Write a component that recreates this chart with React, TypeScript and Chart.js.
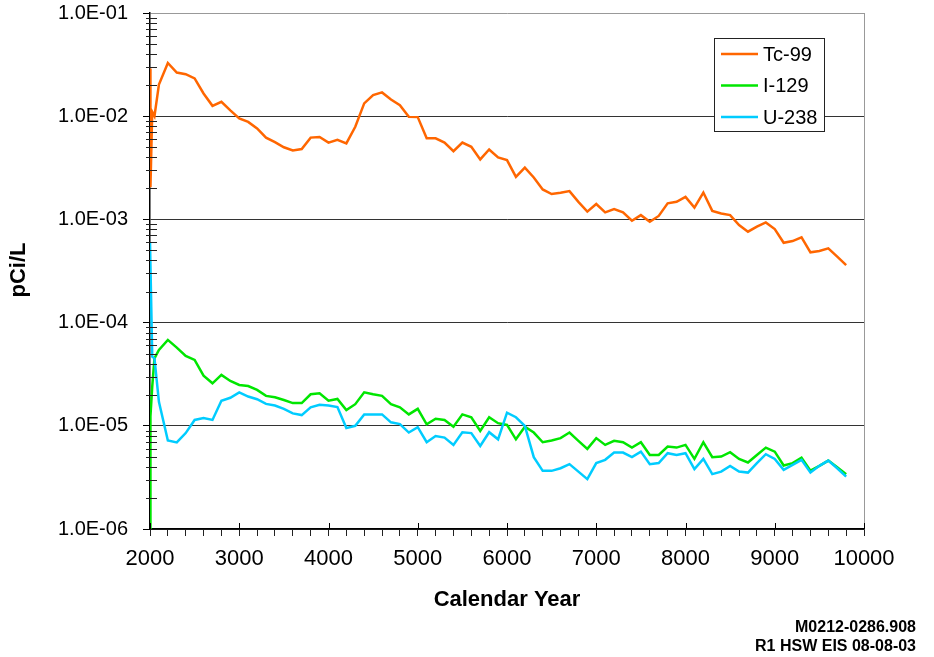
import React, { useEffect, useRef } from "react";
import { Chart, registerables } from "chart.js";

Chart.register(...registerables);

const years = [
  2000, 2005, 2025, 2050, 2100,
  2200, 2300, 2400, 2500, 2600, 2700, 2800, 2900,
  3000, 3100, 3200, 3300, 3400, 3500, 3600, 3700, 3800, 3900,
  4000, 4100, 4200, 4300, 4400, 4500, 4600, 4700, 4800, 4900,
  5000, 5100, 5200, 5300, 5400, 5500, 5600, 5700, 5800, 5900,
  6000, 6100, 6200, 6300, 6400, 6500, 6600, 6700, 6800, 6900,
  7000, 7100, 7200, 7300, 7400, 7500, 7600, 7700, 7800, 7900,
  8000, 8100, 8200, 8300, 8400, 8500, 8600, 8700, 8800, 8900,
  9000, 9100, 9200, 9300, 9400, 9500, 9600, 9700, 9800,
];

const tc99 = [
  2.9e-2, 2.05e-3, 1.1e-2, 1.0e-2, 2.03e-2,
  3.28e-2, 2.65e-2, 2.55e-2, 2.32e-2, 1.66e-2, 1.26e-2, 1.38e-2, 1.14e-2,
  9.5e-3, 8.8e-3, 7.6e-3, 6.2e-3, 5.6e-3, 5.0e-3, 4.65e-3, 4.8e-3, 6.2e-3, 6.3e-3,
  5.55e-3, 5.9e-3, 5.45e-3, 7.9e-3, 1.33e-2, 1.6e-2, 1.7e-2, 1.45e-2, 1.28e-2, 9.85e-3,
  9.8e-3, 6.1e-3, 6.1e-3, 5.56e-3, 4.58e-3, 5.56e-3, 5.05e-3, 3.81e-3, 4.76e-3, 3.98e-3,
  3.75e-3, 2.58e-3, 3.18e-3, 2.55e-3, 1.95e-3, 1.76e-3, 1.81e-3, 1.88e-3, 1.48e-3, 1.19e-3,
  1.41e-3, 1.17e-3, 1.26e-3, 1.17e-3, 9.7e-4, 1.1e-3, 9.5e-4, 1.08e-3, 1.43e-3, 1.48e-3,
  1.65e-3, 1.3e-3, 1.82e-3, 1.21e-3, 1.14e-3, 1.1e-3, 8.8e-4, 7.6e-4, 8.5e-4, 9.35e-4,
  8.06e-4, 5.94e-4, 6.17e-4, 6.7e-4, 4.8e-4, 4.94e-4, 5.24e-4, 4.35e-4, 3.61e-4,
];

const i129 = [
  1.0e-6, 1.23e-5, 2.4e-5, 4.5e-5, 5.43e-5,
  6.8e-5, 5.72e-5, 4.75e-5, 4.35e-5, 3.06e-5, 2.58e-5, 3.11e-5, 2.72e-5,
  2.49e-5, 2.43e-5, 2.23e-5, 1.95e-5, 1.89e-5, 1.78e-5, 1.66e-5, 1.66e-5, 2.02e-5, 2.07e-5,
  1.75e-5, 1.82e-5, 1.42e-5, 1.62e-5, 2.11e-5, 2.02e-5, 1.95e-5, 1.62e-5, 1.51e-5, 1.29e-5,
  1.46e-5, 1.035e-5, 1.17e-5, 1.14e-5, 9.8e-6, 1.29e-5, 1.21e-5, 8.93e-6, 1.21e-5, 1.06e-5,
  1.02e-5, 7.4e-6, 9.8e-6, 8.6e-6, 6.93e-6, 7.2e-6, 7.6e-6, 8.6e-6, 7.15e-6, 5.97e-6,
  7.6e-6, 6.53e-6, 7.15e-6, 6.93e-6, 6.15e-6, 6.93e-6, 5.22e-6, 5.22e-6, 6.3e-6, 6.15e-6,
  6.53e-6, 4.78e-6, 6.93e-6, 4.97e-6, 5.04e-6, 5.55e-6, 4.78e-6, 4.41e-6, 5.22e-6, 6.15e-6,
  5.62e-6, 4.12e-6, 4.35e-6, 4.92e-6, 3.68e-6, 4.09e-6, 4.6e-6, 3.97e-6, 3.4e-6,
];

const u238 = [
  6.0e-4, null, 4.68e-5, 4.5e-5, 1.71e-5,
  7.2e-6, 6.9e-6, 8.5e-6, 1.14e-5, 1.19e-5, 1.14e-5, 1.75e-5, 1.87e-5,
  2.11e-5, 1.92e-5, 1.81e-5, 1.63e-5, 1.57e-5, 1.46e-5, 1.32e-5, 1.27e-5, 1.51e-5, 1.6e-5,
  1.57e-5, 1.52e-5, 9.5e-6, 1.0e-5, 1.29e-5, 1.29e-5, 1.29e-5, 1.08e-5, 1.04e-5, 8.6e-6,
  9.7e-6, 6.93e-6, 7.97e-6, 7.69e-6, 6.53e-6, 8.67e-6, 8.5e-6, 6.38e-6, 8.67e-6, 7.4e-6,
  1.34e-5, 1.21e-5, 1.0e-5, 4.97e-6, 3.66e-6, 3.66e-6, 3.88e-6, 4.25e-6, 3.6e-6, 3.04e-6,
  4.35e-6, 4.68e-6, 5.5e-6, 5.5e-6, 4.97e-6, 5.62e-6, 4.25e-6, 4.35e-6, 5.43e-6, 5.22e-6,
  5.43e-6, 3.8e-6, 4.78e-6, 3.4e-6, 3.6e-6, 4.09e-6, 3.6e-6, 3.52e-6, 4.35e-6, 5.31e-6,
  4.78e-6, 3.74e-6, 4.18e-6, 4.68e-6, 3.52e-6, 4.09e-6, 4.6e-6, 3.88e-6, 3.22e-6,
];

const seriesNames = ["Tc-99", "I-129", "U-238"];
const seriesColors = ["#FF6600", "#00E600", "#00CCFF"];
const xLabelYears = [2000, 3000, 4000, 5000, 6000, 7000, 8000, 9000, 10000];
const yDecadeExponents = [-6, -5, -4, -3, -2, -1];
const yMinorMantissas = [2, 3, 4, 5, 6, 7, 8, 9];
const xTitle = "Calendar Year";
const yTitle = "pCi/L";
const footer1 = "M0212-0286.908";
const footer2 = "R1 HSW EIS 08-08-03";

const FONT = "'Liberation Sans', Arial, sans-serif";

const isDecade = (v: number) => {
  const l = Math.log10(v);
  return Math.abs(l - Math.round(l)) < 1e-9;
};
const fmtDecade = (v: number) => {
  const e = Math.round(Math.log10(v));
  const sign = e < 0 ? "-" : "+";
  return "1.0E" + sign + String(Math.abs(e)).padStart(2, "0");
};

const yTickValues: number[] = [];
yDecadeExponents.forEach((e, i) => {
  yTickValues.push(Number(`1e${e}`));
  if (i < yDecadeExponents.length - 1) {
    yMinorMantissas.forEach((m) => yTickValues.push(Number(`${m}e${e}`)));
  }
});

const extrasPlugin = {
  id: "extras",
  afterDraw(chart: any) {
    const ctx = chart.ctx;
    const area = chart.chartArea;
    const xs = chart.scales.x;
    const ys = chart.scales.y;
    ctx.save();
    // right border of plot
    ctx.strokeStyle = "#999";
    ctx.lineWidth = 1;
    ctx.beginPath();
    ctx.moveTo(area.right + 0.5, area.top);
    ctx.lineTo(area.right + 0.5, area.bottom);
    ctx.stroke();
    // minor y ticks
    ctx.strokeStyle = "#222";
    ctx.lineWidth = 1;
    ys.ticks.forEach((t: any) => {
      if (!isDecade(t.value)) {
        const py = Math.round(ys.getPixelForValue(t.value)) + 0.5;
        ctx.beginPath();
        ctx.moveTo(area.left - 4, py);
        ctx.lineTo(area.left + 7, py);
        ctx.stroke();
      }
    });
    // major x ticks crossing axis
    ctx.strokeStyle = "#000";
    xLabelYears.forEach((yr) => {
      const px = Math.round(xs.getPixelForValue(yr)) + 0.5;
      ctx.beginPath();
      ctx.moveTo(px, area.bottom - 6);
      ctx.lineTo(px, area.bottom);
      ctx.stroke();
    });
    // legend
    const lx = 714, ly = 38, lw = 110, lh = 93;
    ctx.fillStyle = "#fff";
    ctx.fillRect(lx, ly, lw, lh);
    ctx.strokeStyle = "#222";
    ctx.lineWidth = 1;
    ctx.strokeRect(lx + 0.5, ly + 0.5, lw, lh);
    chart.data.datasets.forEach((ds: any, i: number) => {
      const ry = 54 + i * 31.5;
      ctx.strokeStyle = ds.borderColor;
      ctx.lineWidth = 2.5;
      ctx.beginPath();
      ctx.moveTo(721, ry);
      ctx.lineTo(758, ry);
      ctx.stroke();
      ctx.fillStyle = "#000";
      ctx.font = `20px ${FONT}`;
      ctx.textAlign = "left";
      ctx.textBaseline = "middle";
      ctx.fillText(ds.label, 763, ry + 1);
    });
    // titles
    ctx.fillStyle = "#000";
    ctx.font = `bold 22px ${FONT}`;
    ctx.textAlign = "center";
    ctx.textBaseline = "middle";
    ctx.fillText(xTitle, 507, 600);
    ctx.save();
    ctx.translate(19, 270);
    ctx.rotate(-Math.PI / 2);
    ctx.fillText(yTitle, 0, 0);
    ctx.restore();
    ctx.font = `bold 16px ${FONT}`;
    ctx.textAlign = "right";
    ctx.fillText(footer1, 916, 628);
    ctx.fillText(footer2, 916, 647);
    ctx.restore();
  },
};

export default function App() {
  const ref = useRef<HTMLCanvasElement | null>(null);
  useEffect(() => {
    if (!ref.current) return;
    const data = [tc99, i129, u238];
    const chart = new Chart(ref.current, {
      type: "line",
      data: {
        datasets: data.map((vals, i) => ({
          label: seriesNames[i],
          data: years.map((yr, k) => ({ x: yr, y: vals[k] })),
          borderColor: seriesColors[i],
          backgroundColor: seriesColors[i],
          borderWidth: 2.5,
          pointRadius: 0,
          tension: 0,
          spanGaps: true,
          order: 2 - i,
        })),
      },
      options: {
        responsive: false,
        animation: false,
        devicePixelRatio: 1,
        layout: { padding: { top: 13, right: 70, left: 0, bottom: 0 } },
        plugins: { legend: { display: false }, tooltip: { enabled: false } },
        scales: {
          x: {
            type: "linear",
            min: 2000,
            max: 10000,
            afterFit: (s: any) => {
              s.height = 128;
              s.paddingLeft = 0;
              s.paddingRight = 0;
            },
            ticks: {
              stepSize: 200,
              autoSkip: false,
              maxRotation: 0,
              padding: 10,
              color: "#000",
              font: { family: FONT, size: 22 },
              callback: (v: any) => (Number(v) % 1000 === 0 ? String(v) : ""),
            },
            grid: {
              drawOnChartArea: false,
              tickLength: 7,
              tickColor: "#222",
            },
            border: { color: "#000", width: 1.5 },
          },
          y: {
            type: "logarithmic",
            min: 1e-6,
            max: 1e-1,
            afterBuildTicks: (s: any) => {
              s.ticks = yTickValues.map((v) => ({ value: v, major: isDecade(v) }));
            },
            afterFit: (s: any) => {
              s.width = 150;
              s.paddingTop = 0;
              s.paddingBottom = 0;
            },
            ticks: {
              autoSkip: false,
              padding: 15,
              color: "#000",
              font: { family: FONT, size: 20 },
              callback: (v: any) => (isDecade(Number(v)) ? fmtDecade(Number(v)) : ""),
            },
            grid: {
              tickLength: 7,
              color: (c: any) =>
                c.tick && isDecade(c.tick.value)
                  ? c.tick.value >= 0.099
                    ? "#999"
                    : "#333"
                  : "rgba(0,0,0,0)",
              tickColor: (c: any) =>
                c.tick && isDecade(c.tick.value) ? "#000" : "rgba(0,0,0,0)",
              lineWidth: 1,
            },
            border: { color: "#000", width: 1.5 },
          },
        },
      },
      plugins: [extrasPlugin],
    });
    return () => chart.destroy();
  }, []);
  return (
    <div style={{ position: "absolute", left: 0, top: 0, width: 934, height: 657, background: "#fff" }}>
      <canvas ref={ref} width={934} height={657} style={{ width: 934, height: 657 }} />
    </div>
  );
}
